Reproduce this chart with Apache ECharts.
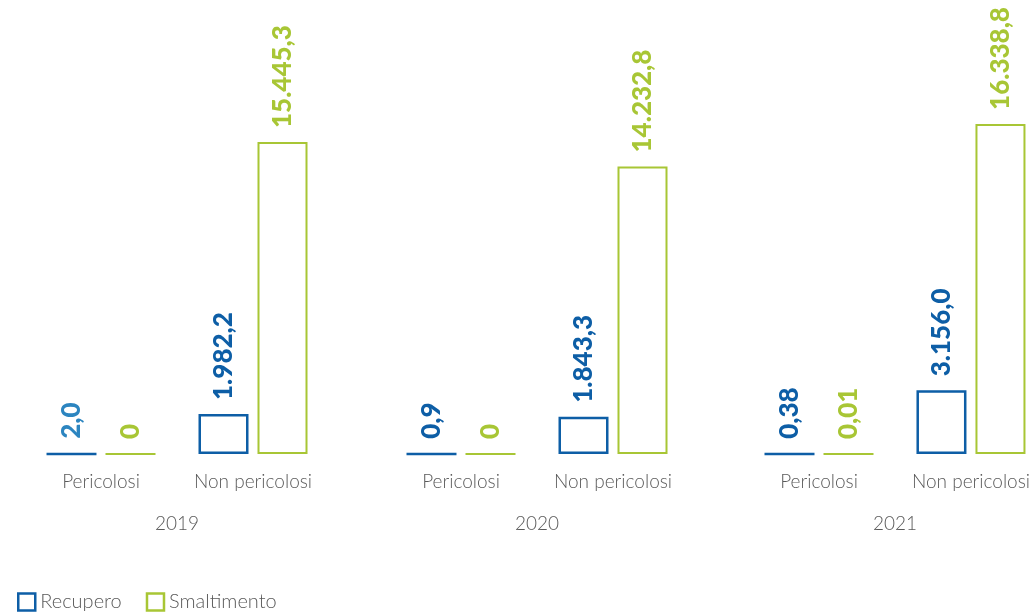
<!DOCTYPE html>
<html>
<head>
<meta charset="utf-8">
<script src="https://cdn.jsdelivr.net/npm/echarts@6/dist/echarts.min.js"></script>
<style>
  html, body { margin: 0; padding: 0; background: #fff; }
  #main { width: 1033px; height: 612px; }
</style>
</head>
<body>
<div id="main"></div>
<script>
var years = ['2019', '2020', '2021'];
var categories = ['Pericolosi', 'Non pericolosi'];
// values per year: [Pericolosi, Non pericolosi]
var recupero = [[2.0, 1982.2], [0.9, 1843.3], [0.38, 3156.0]];
var smaltimento = [[0, 15445.3], [0, 14232.8], [0.01, 16338.8]];
var recuperoLabels = [['2,0', '1.982,2'], ['0,9', '1.843,3'], ['0,38', '3.156,0']];
var smaltimentoLabels = [['0', '15.445,3'], ['0', '14.232,8'], ['0,01', '16.338,8']];

var BLUE = '#0d5ea6';
var GREEN = '#a8c635';
var TEXT = '#5a5a5a';

var chart = echarts.init(document.getElementById('main'));

// x of the "Pericolosi" tick in each year block
var gridLefts = [101, 461, 819];
var grids = [], xAxes = [], yAxes = [], series = [];

function barLabel(color, texts) {
    return {
        show: true,
        position: 'top',
        rotate: 90,
        align: 'left',
        verticalAlign: 'middle',
        distance: 14,
        color: color,
        fontFamily: 'Lato',
        fontWeight: 900,
        fontSize: 26,
        formatter: function (p) { return texts[p.dataIndex]; }
    };
}

years.forEach(function (y, i) {
    grids.push({ left: gridLefts[i], width: 152, top: 54, bottom: 158 });
    xAxes.push({
        type: 'category',
        gridIndex: i,
        data: categories,
        boundaryGap: false,
        name: y,
        nameLocation: 'middle',
        nameGap: 60,
        nameTextStyle: { color: TEXT, fontFamily: 'Lato', fontWeight: 300, fontSize: 19 },
        axisLine: { show: false },
        axisTick: { show: false },
        axisLabel: {
            color: TEXT, fontFamily: 'Lato', fontWeight: 300, fontSize: 19, margin: 18,
            interval: 0, showMinLabel: true, showMaxLabel: true, hideOverlap: false
        }
    });
    yAxes.push({
        type: 'value',
        gridIndex: i,
        min: 0,
        max: 19800,
        show: false,
        splitLine: { show: false }
    });
    var recData = recupero[i].map(function (v, k) {
        var d = { value: v };
        if (i === 0 && k === 0) d.label = { color: '#2c85c0' };
        return d;
    });
    series.push({
        name: 'Recupero',
        type: 'bar',
        clip: false,
        xAxisIndex: i,
        yAxisIndex: i,
        data: recData,
        barWidth: 50,
        barGap: '18%',
        itemStyle: { color: '#ffffff', borderColor: BLUE, borderWidth: 2.5 },
        label: barLabel(BLUE, recuperoLabels[i])
    });
    series.push({
        name: 'Smaltimento',
        type: 'bar',
        clip: false,
        xAxisIndex: i,
        yAxisIndex: i,
        data: smaltimento[i],
        barWidth: 50,
        barGap: '18%',
        itemStyle: { color: '#ffffff', borderColor: GREEN, borderWidth: 2 },
        label: barLabel(GREEN, smaltimentoLabels[i])
    });
});

chart.setOption({
    animation: false,
    legend: {
        left: 12,
        bottom: -5,
        icon: 'rect',
        itemWidth: 17,
        itemHeight: 17,
        itemGap: 24,
        data: ['Recupero', 'Smaltimento'],
        itemStyle: { borderWidth: 2.5 },
        textStyle: { color: TEXT, fontFamily: 'Lato', fontWeight: 300, fontSize: 20 }
    },
    grid: grids,
    xAxis: xAxes,
    yAxis: yAxes,
    series: series
});
</script>
</body>
</html>
